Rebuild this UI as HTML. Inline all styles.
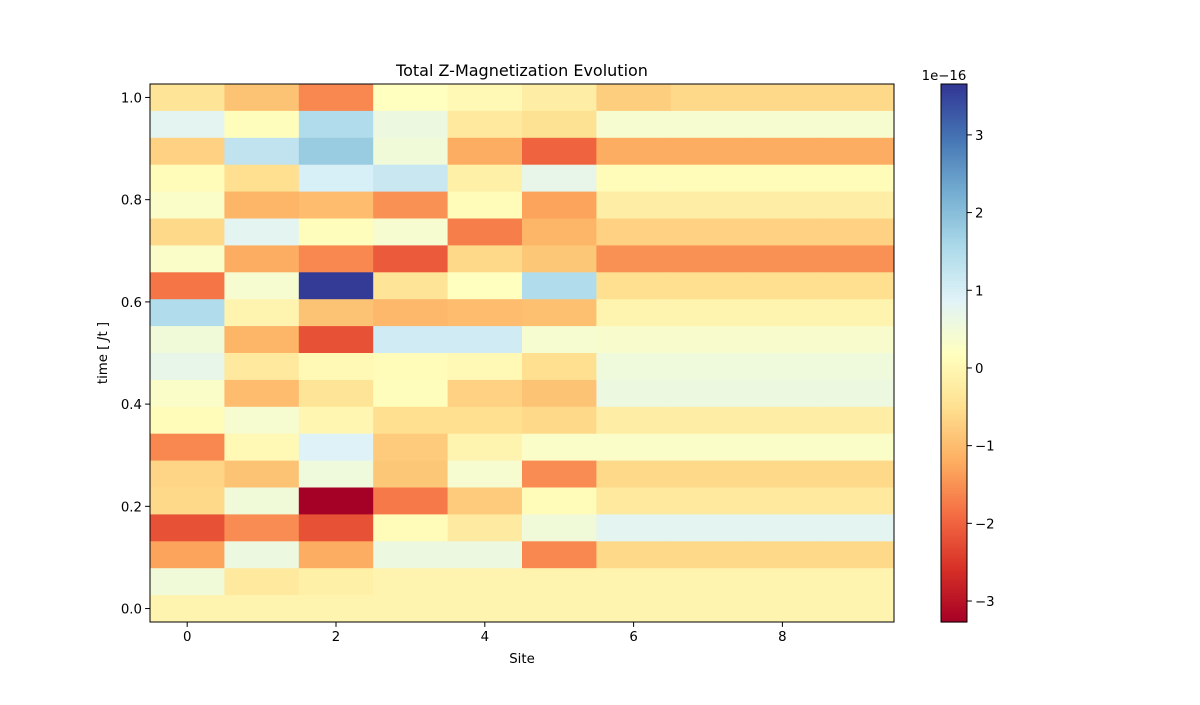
<!DOCTYPE html>
<html><head><meta charset="utf-8"><style>
html,body{margin:0;padding:0;background:#fff;}
svg text{font-family:"DejaVu Sans","Liberation Sans",sans-serif;fill:#000;}
</style></head><body>
<svg id="chart" width="1200" height="700" xmlns="http://www.w3.org/2000/svg">
<g id="cells"></g>
<g id="cbar"></g>
<g id="axes"></g>
<text x="522" y="76" font-size="16" text-anchor="middle">Total Z-Magnetization Evolution</text>
<text x="522" y="663" font-size="13.3" text-anchor="middle">Site</text>
<text x="0" y="0" font-size="13.3" text-anchor="middle" transform="translate(107,353) rotate(-90)">time [ <tspan font-style="italic">J</tspan>t ]</text>
<text x="944" y="80" font-size="13.3" text-anchor="middle">1e−16</text>
</svg>
<script>
// rows from top (t=1.0) to bottom (t=0.0); values in units of 1e-16
const sites = [0,1,2,3,4,5,6,7,8,9];
const rowValues = [
 [-0.4,-0.9,-1.6,0.2,0.05,-0.2,-0.75,-0.6,-0.6,-0.6],
 [0.8,0.15,1.5,0.6,-0.3,-0.45,0.4,0.4,0.4,0.4],
 [-0.7,1.3,1.8,0.5,-1.2,-2.0,-1.2,-1.2,-1.2,-1.2],
 [0.1,-0.5,1.0,1.2,-0.15,0.7,0.1,0.1,0.1,0.1],
 [0.3,-1.1,-1.0,-1.5,0.1,-1.3,-0.2,-0.2,-0.2,-0.2],
 [-0.6,0.8,0.15,0.4,-1.7,-1.1,-0.7,-0.7,-0.7,-0.7],
 [0.3,-1.2,-1.6,-2.1,-0.6,-0.85,-1.5,-1.5,-1.5,-1.5],
 [-1.8,0.4,3.6,-0.4,0.2,1.5,-0.5,-0.5,-0.5,-0.5],
 [1.5,-0.05,-0.9,-1.05,-1.0,-0.95,-0.05,-0.05,-0.05,-0.05],
 [0.5,-1.1,-2.2,1.1,1.1,0.4,0.35,0.35,0.35,0.35],
 [0.7,-0.3,0.05,0.1,0.05,-0.5,0.55,0.55,0.55,0.55],
 [0.3,-1.0,-0.4,0.15,-0.7,-0.9,0.6,0.6,0.6,0.6],
 [0.1,0.4,0.0,-0.5,-0.5,-0.6,-0.2,-0.2,-0.2,-0.2],
 [-1.6,0.05,0.9,-0.8,-0.05,0.3,0.3,0.3,0.3,0.3],
 [-0.65,-0.9,0.55,-0.85,0.4,-1.55,-0.6,-0.6,-0.6,-0.6],
 [-0.6,0.5,-3.27,-1.75,-0.8,0.1,-0.3,-0.3,-0.3,-0.3],
 [-2.2,-1.55,-2.2,0.1,-0.25,0.5,0.8,0.8,0.8,0.8],
 [-1.3,0.6,-1.2,0.6,0.6,-1.6,-0.6,-0.6,-0.6,-0.6],
 [0.5,-0.3,-0.15,-0.05,-0.05,-0.05,-0.05,-0.05,-0.05,-0.05],
 [-0.05,-0.05,-0.05,-0.05,-0.05,-0.05,-0.05,-0.05,-0.05,-0.05]
];
const xTicks = [0,2,4,6,8];
const yTicks = [0.0,0.2,0.4,0.6,0.8,1.0];
const cbTicks = [-3,-2,-1,0,1,2,3];
const vmin = -3.27, vmax = 3.655;

const L=150,R=894,T=84,B=622;
const nRows=rowValues.length;
const xs=v=>L+(v+0.5)/sites.length*(R-L);
const tStep=1/(nRows-1);
const ys=t=>B-(t+tStep/2)/(1+tStep)*(B-T);
const stops=["#a50026","#d73027","#f46d43","#fdae61","#fee090","#ffffbf","#e0f3f8","#abd9e9","#74add1","#4575b4","#313695"];
function hex(h){return [1,3,5].map(i=>parseInt(h.substr(i,2),16));}
function cmap(v){let n=Math.max(0,Math.min(1,(v-vmin)/(vmax-vmin)))*10;let i=Math.min(9,Math.floor(n)),f=n-i;
const a=hex(stops[i]),b=hex(stops[i+1]);return "rgb("+a.map((c,k)=>Math.round(c+(b[k]-c)*f)).join(",")+")";}
const NS="http://www.w3.org/2000/svg";
function mk(tag,attrs,parent){const e=document.createElementNS(NS,tag);for(const k in attrs)e.setAttribute(k,attrs[k]);parent.appendChild(e);return e;}
const cells=document.getElementById('cells');
rowValues.forEach((row,r)=>{const t=(nRows-1-r)*tStep;row.forEach((v,c)=>{
 const x0=xs(sites[c]-0.5),x1=xs(sites[c]+0.5),y0=ys(t+tStep/2),y1=ys(t-tStep/2);
 const e=mk('rect',{x:x0,y:y0,width:x1-x0+0.5,height:y1-y0+0.5,fill:cmap(v)},cells);
 
 
});});
const axes=document.getElementById('axes');
const fr=mk('rect',{x:L,y:T,width:R-L,height:B-T,fill:'none',stroke:'#000','stroke-width':1},axes);


xTicks.forEach(v=>{const x=xs(v);mk('line',{x1:x,x2:x,y1:B,y2:B+4.9,stroke:'#000'},axes);
 const t=mk('text',{x:x,y:B+19,'font-size':13.3,'text-anchor':'middle'},axes);t.textContent=v;
 
 });
yTicks.forEach(v=>{const y=ys(v);mk('line',{x1:L-4.9,x2:L,y1:y,y2:y,stroke:'#000'},axes);
 const t=mk('text',{x:L-8,y:y+5,'font-size':13.3,'text-anchor':'end'},axes);t.textContent=v.toFixed(1);
 
 });
const cb=document.getElementById('cbar');
const CL=941,CR=967;
const cy=v=>B-(v-vmin)/(vmax-vmin)*(B-T);
for(let i=0;i<200;i++){const v0=vmin+(vmax-vmin)*i/200,v1=vmin+(vmax-vmin)*(i+1)/200;
 mk('rect',{x:CL,y:cy(v1),width:CR-CL,height:cy(v0)-cy(v1)+0.6,fill:cmap((v0+v1)/2)},cb);}
mk('rect',{x:CL,y:T,width:CR-CL,height:B-T,fill:'none',stroke:'#000'},cb);
cbTicks.forEach(v=>{const y=cy(v);mk('line',{x1:CR,x2:CR+4.9,y1:y,y2:y,stroke:'#000'},cb);
 const t=mk('text',{x:CR+8,y:y+5,'font-size':13.3},cb);t.textContent=(v<0?'−':'')+Math.abs(v);
 
 });
</script>
</body></html>
